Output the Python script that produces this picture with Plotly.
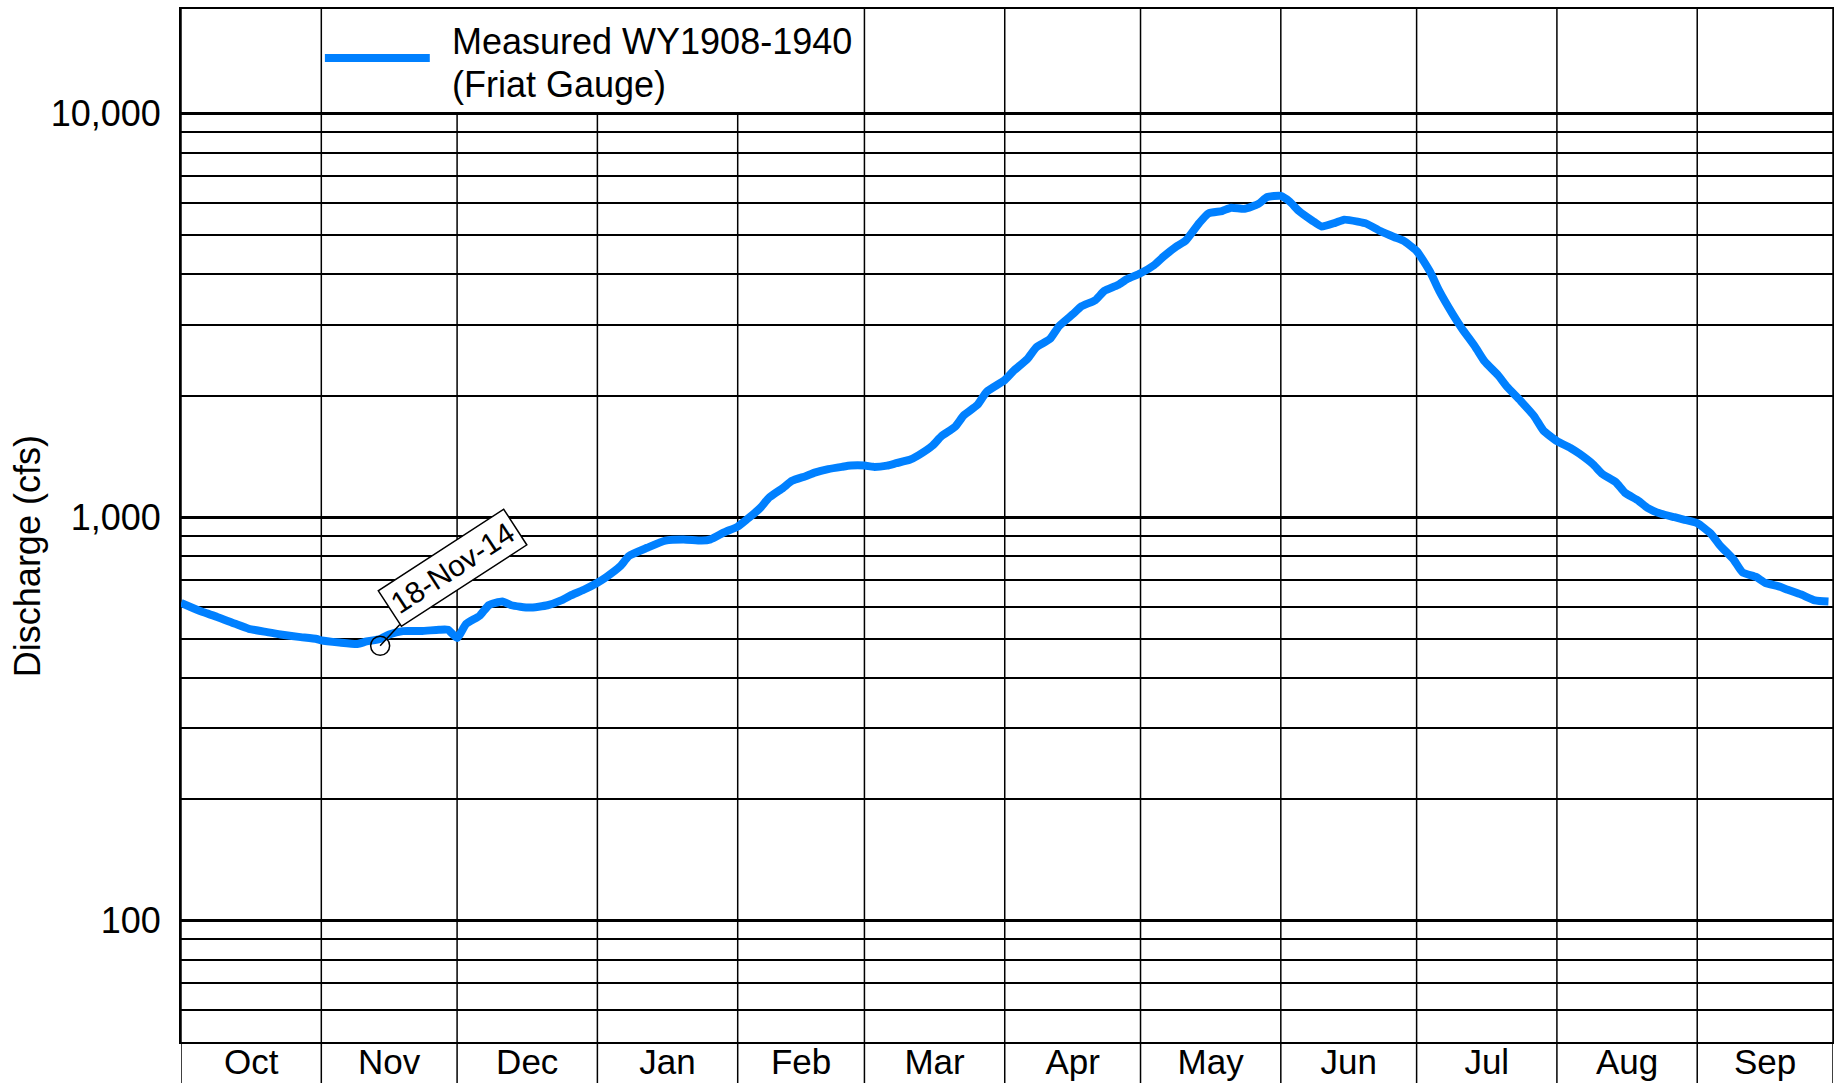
import math
import plotly.graph_objects as go

# ---------------- data ----------------
dates = [
    "2014-10-01", "2014-10-04", "2014-10-06", "2014-10-09", "2014-10-13", "2014-10-16",
    "2014-10-20", "2014-10-23", "2014-10-27", "2014-10-31", "2014-11-01", "2014-11-05",
    "2014-11-09", "2014-11-11", "2014-11-14", "2014-11-16", "2014-11-19", "2014-11-23",
    "2014-11-27", "2014-11-29", "2014-12-01", "2014-12-03", "2014-12-06", "2014-12-08",
    "2014-12-11", "2014-12-13", "2014-12-17", "2014-12-21", "2014-12-24", "2014-12-26",
    "2014-12-29", "2015-01-01", "2015-01-03", "2015-01-06", "2015-01-08", "2015-01-12",
    "2015-01-16", "2015-01-20", "2015-01-24", "2015-01-26", "2015-01-29", "2015-02-01",
    "2015-02-03", "2015-02-06", "2015-02-08", "2015-02-11", "2015-02-13", "2015-02-16",
    "2015-02-18", "2015-02-21", "2015-02-24", "2015-02-26", "2015-03-01", "2015-03-03",
    "2015-03-06", "2015-03-08", "2015-03-11", "2015-03-13", "2015-03-16", "2015-03-18",
    "2015-03-21", "2015-03-23", "2015-03-26", "2015-03-28", "2015-04-01", "2015-04-03",
    "2015-04-06", "2015-04-08", "2015-04-11", "2015-04-13", "2015-04-16", "2015-04-18",
    "2015-04-21", "2015-04-23", "2015-04-26", "2015-04-28", "2015-05-01", "2015-05-04",
    "2015-05-06", "2015-05-09", "2015-05-11", "2015-05-14", "2015-05-16", "2015-05-19",
    "2015-05-21", "2015-05-24", "2015-05-27", "2015-05-29", "2015-06-01", "2015-06-03",
    "2015-06-05", "2015-06-08", "2015-06-10", "2015-06-13", "2015-06-15", "2015-06-18",
    "2015-06-20", "2015-06-23", "2015-06-26", "2015-06-28", "2015-07-01", "2015-07-04",
    "2015-07-06", "2015-07-09", "2015-07-11", "2015-07-14", "2015-07-16", "2015-07-19",
    "2015-07-21", "2015-07-24", "2015-07-27", "2015-07-29", "2015-08-01", "2015-08-04",
    "2015-08-06", "2015-08-09", "2015-08-11", "2015-08-14", "2015-08-16", "2015-08-19",
    "2015-08-21", "2015-08-24", "2015-08-27", "2015-08-29", "2015-09-01", "2015-09-04",
    "2015-09-06", "2015-09-09", "2015-09-11", "2015-09-14", "2015-09-16", "2015-09-19",
    "2015-09-21", "2015-09-24", "2015-09-27", "2015-09-30",
]

discharge = [
    613, 593, 581, 566, 544, 529,
    519, 512, 505, 499, 495, 489,
    485, 492, 499, 512, 522, 522,
    526, 526, 502, 544, 570, 605,
    618, 605, 597, 605, 622, 639,
    661, 688, 711, 755, 802, 840,
    875, 881, 875, 881, 917, 948,
    987, 1055, 1120, 1182, 1231, 1264,
    1290, 1316, 1333, 1343, 1343, 1333,
    1343, 1361, 1388, 1426, 1504, 1587,
    1675, 1791, 1901, 2046, 2188, 2308,
    2468, 2640, 2767, 2977, 3184, 3335,
    3452, 3640, 3764, 3893, 4026, 4218,
    4419, 4694, 4853, 5368, 5665, 5743,
    5854, 5815, 5975, 6219, 6264, 6055,
    5743, 5431, 5258, 5368, 5467, 5404,
    5337, 5120, 4952, 4853, 4573, 4054,
    3640, 3184, 2938, 2640, 2437, 2249,
    2104, 1942, 1779, 1641, 1545, 1485,
    1436, 1352, 1281, 1222, 1151, 1099,
    1055, 1020, 1000, 987, 967, 911,
    852, 786, 730, 711, 688, 674,
    661, 643, 622, 618,
]

series_name = "Measured WY1908-1940"
series_name_line2 = "(Friat Gauge)"
y_title = "Discharge (cfs)"

month_starts = [
    "2014-10-01", "2014-11-01", "2014-12-01", "2015-01-01", "2015-02-01",
    "2015-03-01", "2015-04-01", "2015-05-01", "2015-06-01", "2015-07-01",
    "2015-08-01", "2015-09-01", "2015-10-01",
]

y_major_vals = [100, 1000, 10000]
y_major_text = ["100", "1,000", "10,000"]
y_minor_vals = [50, 60, 70, 80, 90,
                200, 300, 400, 500, 600, 700, 800, 900,
                2000, 3000, 4000, 5000, 6000, 7000, 8000, 9000]
y_min, y_top_log = 50, 4.26

callout_date = "2014-11-14"
callout_value = 480
callout_text = "18-Nov-14"

# ---------------- styling ----------------
FONT = "Arial, Liberation Sans, Helvetica, sans-serif"
BLUE = "rgb(0,128,255)"
y_range = [math.log10(y_min), y_top_log]


def y_frac(v):
    return (math.log10(v) - y_range[0]) / (y_range[1] - y_range[0])


frac_10k = y_frac(10000)
legend_start, legend_end = month_starts[1], month_starts[5]

fig = go.Figure()
fig.add_trace(go.Scatter(
    x=dates, y=discharge, mode="lines", name=series_name,
    line=dict(color=BLUE, width=8, shape="spline", smoothing=0.5), showlegend=False,
))
fig.add_trace(go.Scatter(
    x=[callout_date], y=[callout_value], mode="markers", showlegend=False,
    marker=dict(symbol="circle-open", size=19, color="black", line=dict(width=1.5)),
    hoverinfo="skip",
))

shapes = []
# month boundary lines (extending down into the label cells); hidden behind legend area
for m in month_starts:
    top = frac_10k if legend_start < m < legend_end else 1
    shapes.append(dict(type="line", xref="x", yref="paper",
                       x0=m, x1=m, y0=-0.06, y1=top,
                       line=dict(color="black", width=1.5), layer="below"))
# legend sample line
shapes.append(dict(type="line", xref="paper", yref="paper",
                   x0=0.0871, x1=0.1506, y0=0.9526, y1=0.9526,
                   line=dict(color=BLUE, width=8), layer="above"))

annotations = [
    dict(xref="paper", yref="paper", x=0.1627, y=0.9685, xanchor="left", yanchor="middle",
         text=series_name, showarrow=False, font=dict(family=FONT, size=36, color="black")),
    dict(xref="paper", yref="paper", x=0.1627, y=0.9270, xanchor="left", yanchor="middle",
         text=series_name_line2, showarrow=False, font=dict(family=FONT, size=36, color="black")),
    dict(xref="paper", yref="paper", x=-0.0925, y=0.4705, xanchor="center", yanchor="middle",
         text=y_title, textangle=-90, showarrow=False,
         font=dict(family=FONT, size=36, color="black")),
    dict(x=callout_date, y=math.log10(callout_value), xref="x", yref="y",
         text=callout_text, textangle=-33, showarrow=True, arrowhead=0,
         arrowwidth=1.5, arrowcolor="black", ax=72, ay=-78,
         bordercolor="black", borderwidth=1.5, borderpad=4, bgcolor="white",
         font=dict(family=FONT, size=30, color="black")),
]

fig.update_layout(
    width=1834, height=1083,
    margin=dict(l=181, r=1, t=9, b=41, autoexpand=False),
    paper_bgcolor="white", plot_bgcolor="white",
    font=dict(family=FONT, size=35, color="black"),
    shapes=shapes, annotations=annotations, showlegend=False,
)

fig.update_xaxes(
    type="date", range=[month_starts[0], month_starts[-1]],
    tick0=month_starts[0], dtick="M1", tickformat="%b", ticklabelmode="period",
    showgrid=False, ticks="", showline=True, mirror=True, ticklabelstandoff=-12,
    linecolor="black", linewidth=2, zeroline=False,
    tickfont=dict(family=FONT, size=35, color="black"),
)

fig.update_yaxes(
    type="log", range=y_range,
    tickmode="array", tickvals=y_major_vals, ticktext=y_major_text,
    showgrid=True, gridcolor="black", gridwidth=3,
    minor=dict(tickvals=y_minor_vals, showgrid=True, gridcolor="black", gridwidth=1.5, ticks=""),
    ticks="", ticklabelstandoff=11,
    showline=True, mirror=True, linecolor="black", linewidth=2, zeroline=False,
    tickfont=dict(family=FONT, size=36, color="black"),
)

fig.write_html("out.html", config={"displayModeBar": False},
               post_script="document.body.style.margin='0px';document.body.style.overflow='hidden';")
